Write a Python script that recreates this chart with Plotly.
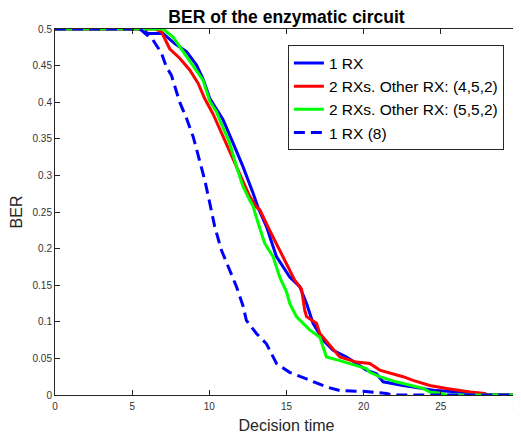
import plotly.graph_objects as go

# 1 RX
rx1_x = [0, 5.9, 5.9, 7.0, 7.76, 8.52, 9.16, 9.59, 10.03, 10.67, 10.89, 11.54, 12.18, 12.83, 13.16,
         13.7, 14.35, 15.21, 15.86, 16.3, 16.72, 17.37, 18.02, 18.89, 20.18, 20.83, 21.26, 22.55,
         23.64, 24.72, 26.2, 26.9, 27.2, 30]
rx1_y = [0.5, 0.5, 0.494, 0.494, 0.480, 0.469, 0.451, 0.432, 0.405, 0.382, 0.376, 0.344, 0.312, 0.276, 0.256,
         0.230, 0.189, 0.161, 0.148, 0.125, 0.098, 0.075, 0.061, 0.052, 0.034, 0.029, 0.018, 0.013,
         0.009, 0.006, 0.004, 0.001, 0.0, 0.0]

# 2 RXs. Other RX: (4,5,2)
rx2a_x = [0, 6.5, 6.9, 7.43, 8.08, 8.73, 9.27, 9.7, 10.24, 10.89, 11.32, 11.97, 12.62, 13.05, 13.27,
          13.91, 14.56, 15.0, 15.53, 15.97, 16.18, 16.3, 16.94, 17.16, 17.8, 18.45, 19.53, 20.4,
          21.04, 21.9, 22.55, 23.2, 24.28, 25.37, 26.2, 26.9, 27.85, 28.0, 30]
rx2a_y = [0.5, 0.5, 0.496, 0.473, 0.460, 0.444, 0.426, 0.405, 0.384, 0.353, 0.335, 0.303, 0.271, 0.257, 0.253,
          0.225, 0.198, 0.180, 0.157, 0.145, 0.116, 0.107, 0.098, 0.084, 0.068, 0.052, 0.045, 0.043,
          0.034, 0.029, 0.025, 0.020, 0.013, 0.009, 0.006, 0.004, 0.002, 0.0, 0.0]

# 2 RXs. Other RX: (5,5,2)
rx2b_x = [0, 7.0, 7.65, 8.08, 8.52, 8.95, 9.59, 10.03, 10.46, 10.67, 11.32, 11.76, 12.18, 12.62, 12.83,
          13.16, 13.59, 14.13, 14.56, 15.0, 15.21, 15.64, 16.5, 17.16, 17.59, 18.45, 19.1, 20.18,
          20.4, 21.04, 22.1, 23.2, 23.85, 24.28, 25.1, 25.3, 30]
rx2b_y = [0.5, 0.5, 0.489, 0.476, 0.464, 0.451, 0.430, 0.401, 0.387, 0.376, 0.344, 0.312, 0.285, 0.266, 0.258,
          0.235, 0.207, 0.189, 0.161, 0.141, 0.125, 0.107, 0.089, 0.079, 0.052, 0.047, 0.043, 0.036,
          0.031, 0.025, 0.018, 0.013, 0.009, 0.004, 0.002, 0.0, 0.0]

# 1 RX (8)
rx8_x = [0, 5.5, 6.35, 6.9, 7.22, 7.54, 8.08, 8.52, 8.95, 9.38, 9.70, 10.03, 10.35, 10.78, 11.32,
         11.76, 12.18, 12.4, 13.05, 13.7, 14.35, 15.2, 16.3, 17.6, 18.45, 19.96, 21.5, 21.9, 30]
rx8_y = [0.5, 0.5, 0.485, 0.467, 0.448, 0.437, 0.400, 0.378, 0.353, 0.321, 0.294, 0.262, 0.230, 0.198, 0.171,
         0.148, 0.122, 0.102, 0.084, 0.070, 0.043, 0.031, 0.022, 0.011, 0.006, 0.005, 0.002, 0.0, 0.0]

x_ticks = [0, 5, 10, 15, 20, 25, 30]
y_ticks = [0, 0.05, 0.1, 0.15, 0.2, 0.25, 0.3, 0.35, 0.4, 0.45, 0.5]
y_tick_text = ["0", "0.05", "0.1", "0.15", "0.2", "0.25", "0.3", "0.35", "0.4", "0.45", "0.5"]

FONT = "Liberation Sans, Arial, sans-serif"

fig = go.Figure()
fig.add_trace(go.Scatter(x=rx1_x, y=rx1_y, mode="lines", name="1 RX",
                         line=dict(color="#0000ff", width=3)))
fig.add_trace(go.Scatter(x=rx2a_x, y=rx2a_y, mode="lines", name="2 RXs. Other RX: (4,5,2)",
                         line=dict(color="#ff0000", width=3)))
fig.add_trace(go.Scatter(x=rx2b_x, y=rx2b_y, mode="lines", name="2 RXs. Other RX: (5,5,2)",
                         line=dict(color="#00ff00", width=3)))
fig.add_trace(go.Scatter(x=rx8_x, y=rx8_y, mode="lines", name="1 RX (8)",
                         line=dict(color="#0000ff", width=3, dash="11px,6px")))

axis_common = dict(showgrid=False, zeroline=False, showline=True, linecolor="#262626", linewidth=1,
                   mirror="ticks", ticks="inside", ticklen=5, tickcolor="#262626",
                   automargin=False, ticklabeloverflow="allow",
                   tickfont=dict(family=FONT, size=10, color="#333333"))

# The page body adds an 8px offset, so the figure is 8px smaller and margins compensate.
fig.update_layout(
    width=513, height=426,
    margin=dict(l=47, r=3, t=21, b=39),
    paper_bgcolor="white", plot_bgcolor="white",
    title=dict(text="<b>BER of the enzymatic circuit</b>", x=0.5, xref="paper", xanchor="center",
               y=1, yref="container", yanchor="top", pad=dict(t=3),
               font=dict(family=FONT, size=17.5, color="black")),
    xaxis=dict(range=[0, 30], tickvals=x_ticks, ticktext=[str(v) for v in x_ticks],
               ticklabelstandoff=2,
               title=dict(text="Decision time", standoff=10,
                          font=dict(family=FONT, size=16, color="#262626")),
               **axis_common),
    yaxis=dict(range=[0, 0.5], tickvals=y_ticks, ticktext=y_tick_text,
               title=dict(text="BER", standoff=6,
                          font=dict(family=FONT, size=16, color="#262626")),
               **axis_common),
    legend=dict(x=0.503, y=0.955, xanchor="left", yanchor="top",
                bgcolor="white", bordercolor="#262626", borderwidth=1,
                font=dict(family=FONT, size=15.5, color="black"),
                tracegroupgap=0, itemwidth=30),
    showlegend=True,
)

fig.write_html("out.html")
